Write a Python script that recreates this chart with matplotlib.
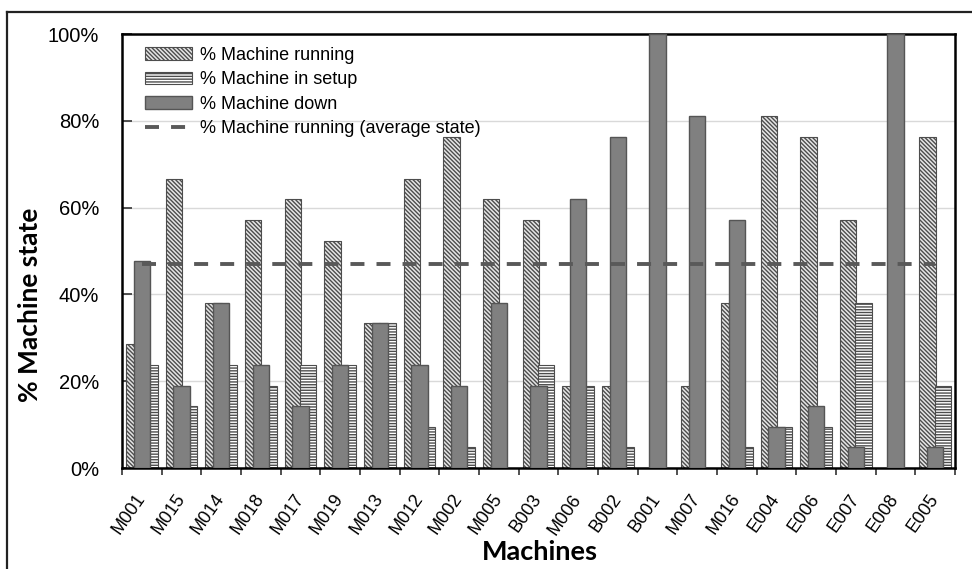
import matplotlib
matplotlib.use("Agg")
import matplotlib.pyplot as plt
import matplotlib.transforms as mtransforms
import numpy as np
from matplotlib.lines import Line2D
from matplotlib.ticker import FixedLocator, PercentFormatter

machines = ["M001", "M015", "M014", "M018", "M017", "M019", "M013", "M012", "M002", "M005",
            "B003", "M006", "B002", "B001", "M007", "M016", "E004", "E006", "E007", "E008", "E005"]
running = [28.6, 66.7, 38.1, 57.1, 61.9, 52.4, 33.3, 66.7, 76.2, 61.9,
           57.1, 19.0, 19.0, 0.0, 19.0, 38.1, 81.0, 76.2, 57.1, 0.0, 76.2]
setup = [23.8, 14.3, 23.8, 19.0, 23.8, 23.8, 33.3, 9.5, 4.8, 0.0,
         23.8, 19.0, 4.8, 0.0, 0.0, 4.8, 9.5, 9.5, 38.1, 0.0, 19.0]
down = [47.6, 19.0, 38.1, 23.8, 14.3, 23.8, 33.3, 23.8, 19.0, 38.1,
        19.0, 61.9, 76.2, 100.0, 81.0, 57.1, 9.5, 14.3, 4.8, 100.0, 4.8]
running_avg = 46.9
yticks = [0, 20, 40, 60, 80, 100]

plt.rcParams['font.family'] = ['Liberation Sans', 'DejaVu Sans']
plt.rcParams['hatch.linewidth'] = 1.0

W, H = 972, 569
fig = plt.figure(figsize=(W / 100, H / 100), dpi=100)
ax = fig.add_axes([122 / W, (H - 468) / H, (955 - 122) / W, (468 - 34) / H])

x = np.arange(len(machines))
bw = 0.41
off = 0.19

b1 = ax.bar(x - off, running, bw, facecolor='#e6e6e6', edgecolor='#4d4d4d',
            hatch='\\\\\\\\\\\\\\\\', linewidth=0.8, zorder=2, label='% Machine running')
b2 = ax.bar(x + off, setup, bw, facecolor='white', edgecolor='#4d4d4d',
            hatch='------', linewidth=0.8, zorder=2, label='% Machine in setup')
b3 = ax.bar(x, down, bw, facecolor='#808080', edgecolor='#555555',
            linewidth=1.0, zorder=3, label='% Machine down')
ln, = ax.plot(x, [running_avg] * len(x), color='#595959', lw=2.8,
              dashes=(3.6, 3.1), zorder=4, label='% Machine running (average state)')

ax.set_xlim(-0.5, len(machines) - 0.5)
ax.set_ylim(0, 100)
ax.yaxis.set_major_locator(FixedLocator(yticks))
ax.yaxis.set_major_formatter(PercentFormatter(decimals=0))
ax.grid(axis='y', color='#d9d9d9', lw=1, zorder=0)
ax.set_axisbelow(True)

ax.set_xticks(np.arange(-0.5, len(machines), 1.0))
ax.set_xticklabels([])
ax.set_xticks(x, minor=True)
ax.set_xticklabels(machines, minor=True, rotation=55, ha='right', va='center',
                   rotation_mode='anchor', fontsize=13)
shift = mtransforms.ScaledTranslation(5 / 100, 0, fig.dpi_scale_trans)
for lab in ax.get_xticklabels(minor=True):
    lab.set_transform(lab.get_transform() + shift)
ax.tick_params(axis='x', which='major', direction='out', length=5, width=1.2, color='#333333')
ax.tick_params(axis='x', which='minor', length=0, pad=20)
ax.tick_params(axis='y', direction='in', length=7, width=1.2, color='#333333',
               labelsize=14.5, pad=16.5)

for s in ax.spines.values():
    s.set_linewidth(1.8)
    s.set_color('black')

handles = [b1, b2, b3, ln]
leg = ax.legend(handles=handles, loc='upper left', bbox_to_anchor=(0.013, 1.0),
                frameon=False, fontsize=13, handlelength=2.6, handleheight=0.7,
                labelspacing=0.42, handletextpad=0.4, borderaxespad=0.3)

fig.text(30 / W, 1 - 305 / H, '% Machine state', rotation=90, ha='center', va='center',
         fontsize=19, fontweight='bold', family=['Lato', 'DejaVu Sans'])
fig.text(540 / W, 1 - 552 / H, 'Machines', ha='center', va='center',
         fontsize=19.5, fontweight='bold', family=['Lato', 'DejaVu Sans'])

fig.add_artist(Line2D([7 / W, 7 / W], [1 - 12 / H, 0], transform=fig.transFigure,
                      color='#222222', lw=1.6))
fig.add_artist(Line2D([7 / W, 1], [1 - 12 / H, 1 - 12 / H], transform=fig.transFigure,
                      color='#222222', lw=1.6))

fig.savefig('out.png', dpi=100)
